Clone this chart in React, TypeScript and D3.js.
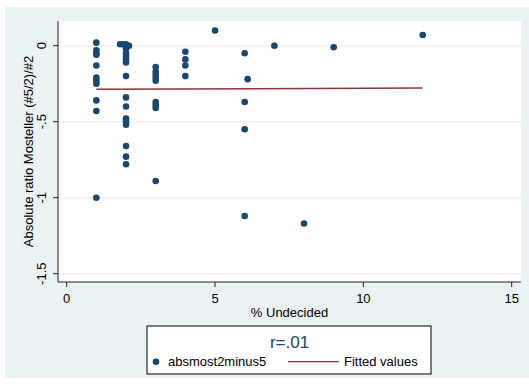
import React from "react";
import { scaleLinear, line } from "d3";

// % undecided / absolute ratio pairs
const undecided = [
  1, 1, 1, 1, 1, 1, 1, 1, 1, 1, 1,
  1.8, 1.9, 2, 2.1, 2, 2, 2, 2, 2, 2, 2, 2, 2, 2, 2, 2, 2, 2,
  3, 3, 3, 3, 3, 3, 3, 3, 3,
  4, 4, 4, 4,
  5,
  6, 6.1, 6, 6, 6,
  7, 8, 9, 12,
];
const absRatio = [
  0.02, -0.03, -0.05, -0.06, -0.13, -0.21, -0.23, -0.25, -0.36, -0.43, -1.0,
  0.01, 0.01, 0.01, 0.0, -0.02, -0.05, -0.07, -0.09, -0.11, -0.2, -0.34, -0.4, -0.48, -0.5, -0.52, -0.66, -0.73, -0.78,
  -0.14, -0.17, -0.19, -0.21, -0.23, -0.37, -0.39, -0.41, -0.89,
  -0.04, -0.09, -0.13, -0.2,
  0.1,
  -0.05, -0.22, -0.37, -0.55, -1.12,
  0.0, -1.17, -0.01, 0.07,
];

const fittedX = [1, 12];
const fittedY = [-0.287, -0.278];

const xTicks = [0, 5, 10, 15];
const yTicks = [0, -0.5, -1, -1.5];
const yTickLabels = ["0", "-.5", "-1", "-1.5"];

const navy = "#1a476f";
const maroon = "#90353b";
const bgColor = "#eaf2f3";
const font = "'Liberation Sans', Arial, sans-serif";

export default function App() {
  const plot = { left: 58, right: 521, top: 21, bottom: 282 };

  const x = scaleLinear().domain([0, 15]).range([66.7, 511.7]);
  const y = scaleLinear().domain([0, -1.5]).range([45.7, 273.7]);

  const fitLine = line<number>()
    .x((d) => x(d))
    .y((d, i) => y(fittedY[i]));

  const legend = { x: 147, y: 326, w: 284, h: 48 };

  return (
    <svg
      width={529}
      height={390}
      style={{ position: "absolute", left: 0, top: 0 }}
      fontFamily={font}
    >
      <rect x={0} y={0} width={529} height={390} fill="#fff" />
      <rect x={5} y={7} width={524} height={371} fill={bgColor} />
      <rect
        x={plot.left}
        y={plot.top}
        width={plot.right - plot.left}
        height={plot.bottom - plot.top}
        fill="#fff"
      />

      {/* grid lines */}
      {yTicks.map((t) => (
        <line
          key={"g" + t}
          x1={plot.left}
          x2={plot.right}
          y1={y(t)}
          y2={y(t)}
          stroke={bgColor}
          strokeWidth={1.5}
        />
      ))}

      {/* points */}
      {undecided.map((u, i) => (
        <circle key={i} cx={x(u)} cy={y(absRatio[i])} r={3.3} fill={navy} />
      ))}

      <path d={fitLine(fittedX) || ""} stroke={maroon} strokeWidth={1.5} fill="none" />

      {/* axes */}
      <line x1={plot.left} x2={plot.left} y1={plot.top} y2={plot.bottom} stroke="#222" strokeWidth={1} />
      <line x1={plot.left} x2={plot.right} y1={plot.bottom} y2={plot.bottom} stroke="#222" strokeWidth={1} />

      {yTicks.map((t, i) => (
        <g key={"y" + t}>
          <line x1={plot.left - 5} x2={plot.left} y1={y(t)} y2={y(t)} stroke="#222" />
          <text
            transform={`translate(${45.5},${y(t)}) rotate(-90)`}
            textAnchor="middle"
            fontSize={13}
            fill="#000"
          >
            {yTickLabels[i]}
          </text>
        </g>
      ))}

      {xTicks.map((t) => (
        <g key={"x" + t}>
          <line x1={x(t)} x2={x(t)} y1={plot.bottom} y2={plot.bottom + 5} stroke="#222" />
          <text x={x(t)} y={302.5} textAnchor="middle" fontSize={13} fill="#000">
            {t}
          </text>
        </g>
      ))}

      <text
        x={(plot.left + plot.right) / 2}
        y={316.5}
        textAnchor="middle"
        fontSize={13}
        fill="#000"
      >
        % Undecided
      </text>
      <text
        transform={`translate(${33},${(plot.top + plot.bottom) / 2}) rotate(-90)`}
        textAnchor="middle"
        fontSize={13}
        fill="#000"
      >
        Absolute ratio Mosteller (#5/2)/#2
      </text>

      {/* legend */}
      <rect
        x={legend.x}
        y={legend.y}
        width={legend.w}
        height={legend.h}
        fill="#fff"
        stroke="#000"
        strokeWidth={1}
      />
      <text x={289.5} y={348} textAnchor="middle" fontSize={17} fill={navy}>
        r=.01
      </text>
      <circle cx={156} cy={361.7} r={3.3} fill={navy} />
      <text x={168} y={366} fontSize={13} fill="#000">
        absmost2minus5
      </text>
      <line x1={288} x2={339} y1={361.7} y2={361.7} stroke={maroon} strokeWidth={1.2} />
      <text x={344} y={366} fontSize={13} fill="#000">
        Fitted values
      </text>
    </svg>
  );
}
